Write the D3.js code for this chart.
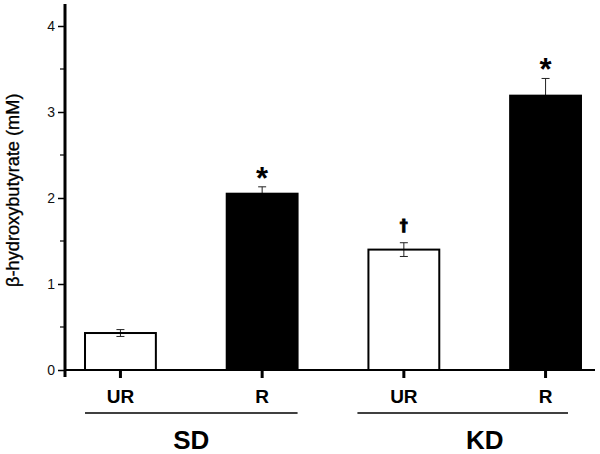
<!DOCTYPE html>
<html>
<head>
<meta charset="utf-8">
<script src="https://cdn.jsdelivr.net/npm/d3@7"></script>
<style>
  body { margin: 0; background: #fff; }
  svg { display: block; font-family: "Liberation Sans", Arial, sans-serif; }
</style>
</head>
<body>
<svg id="chart" width="600" height="454"></svg>
<script>

// Data

const conditions = ["SD-UR", "SD-R", "KD-UR", "KD-R"];
const tickLabels = ["UR", "R", "UR", "R"];
const means = [0.43, 2.05, 1.40, 3.19];
const errors = [0.04, 0.08, 0.08, 0.20];
const fills = ["white", "black", "white", "black"];
const marks = ["", "*", "\u2020", "*"];
const groups = ["SD", "KD"];
const groupMembers = [["SD-UR", "SD-R"], ["KD-UR", "KD-R"]];
const yTicks = [0, 1, 2, 3, 4];
const yMinor = [0.5, 1.5, 2.5, 3.5];

const svg = d3.select("#chart");

const x = d3.scaleBand()
    .domain(conditions)
    .range([65, 601])
    .paddingInner(0.5)
    .paddingOuter(0.1412);

const y = d3.scaleLinear()
    .domain([0, 4])
    .range([370, 26]);

// Bars

const bars = svg.append("g");

conditions.forEach((c, i) => {

    const g = bars.append("g");
    const cx = x(c) + x.bandwidth() / 2;

    // error bar behind the bar, so black bars hide the lower half
    g.append("line")
        .attr("x1", cx).attr("x2", cx)
        .attr("y1", y(means[i] + errors[i]))
        .attr("y2", y(means[i] - errors[i]))
        .attr("stroke", "#222")
        .attr("stroke-width", 1);

    [means[i] + errors[i], means[i] - errors[i]].forEach(v => {
        g.append("line")
            .attr("x1", cx - 4).attr("x2", cx + 4)
            .attr("y1", y(v)).attr("y2", y(v))
            .attr("stroke", "#222")
            .attr("stroke-width", 1);
    });

    g.append("rect")
        .attr("x", x(c))
        .attr("y", y(means[i]))
        .attr("width", x.bandwidth())
        .attr("height", y(0) - y(means[i]))
        .attr("fill", fills[i])
        .attr("fill-opacity", fills[i] === "white" ? 0 : 1)
        .attr("stroke", "black")
        .attr("stroke-width", 2);

    if (marks[i] === "*") {
        g.append("text")
            .attr("x", cx)
            .attr("y", y(means[i] + errors[i]) + 2)
            .attr("text-anchor", "middle")
            .attr("font-weight", "bold")
            .attr("font-size", 31)
            .text(marks[i]);
    } else if (marks[i]) {
        g.append("text")
            .attr("x", cx)
            .attr("y", y(means[i] + errors[i]) - 12)
            .attr("text-anchor", "middle")
            .attr("font-family", "DejaVu Sans, sans-serif")
            .attr("font-weight", "bold")
            .attr("font-size", 16)
            .attr("stroke", "black")
            .attr("stroke-width", 0.8)
            .text(marks[i]);
    }
});

// Y axis

const yAxis = svg.append("g")
    .attr("transform", "translate(65,0)")
    .call(d3.axisLeft(y).tickValues(yTicks).tickSize(7).tickPadding(3).tickFormat(d3.format("d")));

yAxis.select(".domain").remove();
yAxis.selectAll(".tick line").attr("stroke-width", 1.5);
yAxis.selectAll(".tick text")
    .attr("font-size", 14)
    .attr("font-family", "Liberation Sans, Arial, sans-serif")
    .attr("fill", "#111");

yAxis.selectAll(".minor")
    .data(yMinor)
    .join("line")
    .attr("class", "minor")
    .attr("x1", -5).attr("x2", 0)
    .attr("y1", d => y(d)).attr("y2", d => y(d))
    .attr("stroke", "black")
    .attr("stroke-width", 1.2);

svg.append("line")
    .attr("x1", 65).attr("x2", 65)
    .attr("y1", 4).attr("y2", 377)
    .attr("stroke", "black")
    .attr("stroke-width", 3);

svg.append("text")
    .attr("transform", `translate(19,${y(2.09)}) rotate(-90)`)
    .attr("text-anchor", "middle")
    .attr("font-size", 18.2)
    .attr("stroke", "black")
    .attr("stroke-width", 0.3)
    .text("\u03B2-hydroxybutyrate (mM)");

// X axis

svg.append("line")
    .attr("x1", 65).attr("x2", 595)
    .attr("y1", y(0)).attr("y2", y(0))
    .attr("stroke", "black")
    .attr("stroke-width", 2);

const xTicks = svg.append("g");

conditions.forEach((c, i) => {
    const cx = x(c) + x.bandwidth() / 2;
    xTicks.append("line")
        .attr("x1", cx).attr("x2", cx)
        .attr("y1", y(0)).attr("y2", y(0) + 8)
        .attr("stroke", "black")
        .attr("stroke-width", 3);
    xTicks.append("text")
        .attr("x", cx)
        .attr("y", 403)
        .attr("text-anchor", "middle")
        .attr("font-weight", "bold")
        .attr("font-size", 19)
        .text(tickLabels[i]);
});

// Groups

groups.forEach((gName, i) => {
    const first = groupMembers[i][0];
    const last = groupMembers[i][1];
    const x0 = x(first);
    const x1 = x(last) + x.bandwidth();

    svg.append("line")
        .attr("x1", x0 - (i ? 11 : 0)).attr("x2", x1 - (i ? 13 : 0))
        .attr("y1", 413).attr("y2", 413)
        .attr("stroke", "black")
        .attr("stroke-width", 1.5);

    svg.append("text")
        .attr("x", (x0 + x1) / 2 + (i ? 10 : 0))
        .attr("y", 449)
        .attr("text-anchor", "middle")
        .attr("font-weight", "bold")
        .attr("font-size", 26)
        .text(gName);
});

</script>
</body>
</html>
